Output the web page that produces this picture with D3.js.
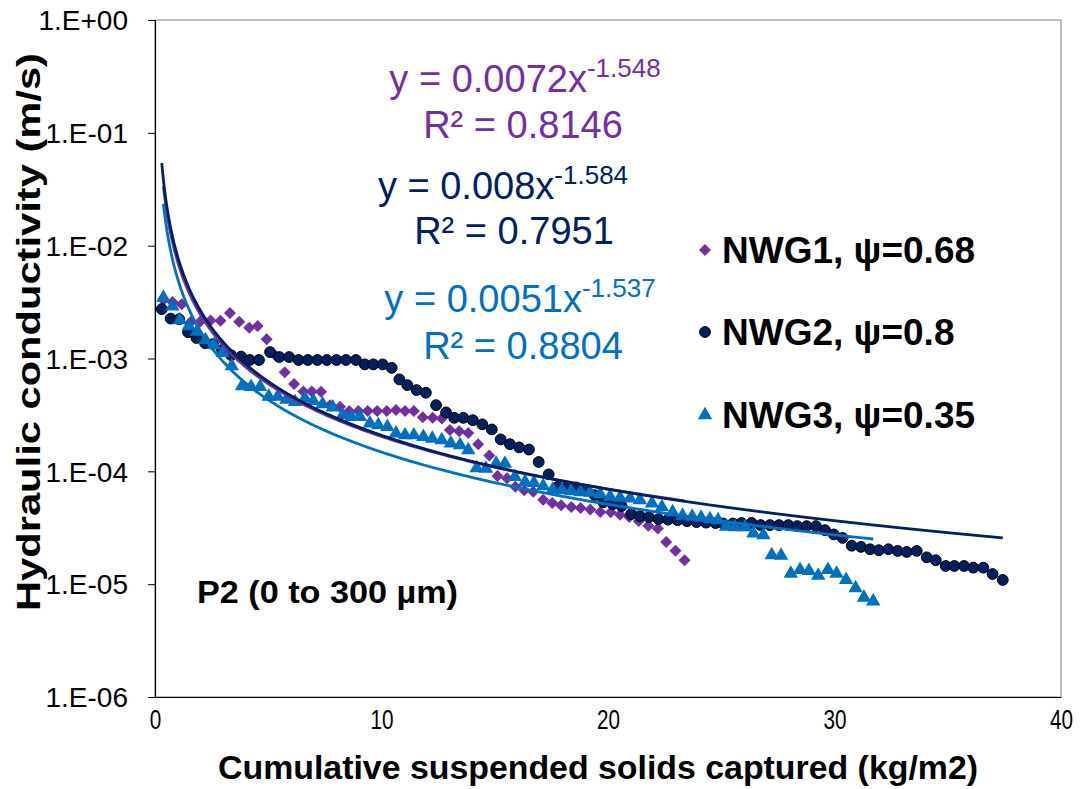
<!DOCTYPE html>
<html>
<head>
<meta charset="utf-8">
<script src="https://cdn.jsdelivr.net/npm/d3@7"></script>
<style>
  html, body { margin: 0; padding: 0; background: #fff; }
  svg { display: block; font-family: "Liberation Sans", Arial, sans-serif; }
</style>
</head>
<body>
<svg id="chart" width="1090" height="789"></svg>
<script>
// ---------------- DATA ----------------
const seriesNames = ["NWG1, \u03c8=0.68", "NWG2, \u03c8=0.8", "NWG3, \u03c8=0.35"];

const nwg1X = [0.37, 0.77, 1.18, 1.59, 1.99, 2.45, 2.89, 3.31, 3.72, 4.16, 4.53, 4.93, 5.34, 5.73, 6.14, 6.55, 6.92, 7.33, 7.73, 8.17, 8.58, 8.98, 9.39, 9.81, 10.23, 10.64, 11.04, 11.43, 11.82, 12.26, 12.66, 13.02, 13.43, 13.83, 14.27, 14.76, 15.12, 15.54, 15.91, 16.30, 16.70, 17.14, 17.54, 17.93, 18.38, 18.79, 19.22, 19.66, 20.12, 20.53, 20.94, 21.36, 21.78, 22.20, 22.57, 22.98, 23.38];
const nwg1Y = [3.3e-3, 3.16e-3, 3.03e-3, 2.12e-3, 2.12e-3, 2.17e-3, 2.16e-3, 2.53e-3, 2.12e-3, 1.87e-3, 1.94e-3, 1.48e-3, 1.05e-3, 7.57e-4, 5.93e-4, 5.11e-4, 5.11e-4, 5.07e-4, 3.86e-4, 3.73e-4, 3.42e-4, 3.42e-4, 3.42e-4, 3.42e-4, 3.42e-4, 3.49e-4, 3.42e-4, 3.42e-4, 3.01e-4, 2.99e-4, 2.94e-4, 2.32e-4, 2.27e-4, 2.19e-4, 1.74e-4, 1.38e-4, 9.07e-5, 8.7e-5, 7.29e-5, 6.81e-5, 6.58e-5, 5.61e-5, 5.23e-5, 5.01e-5, 4.82e-5, 4.72e-5, 4.59e-5, 4.35e-5, 4.33e-5, 4.13e-5, 3.93e-5, 3.62e-5, 3.30e-5, 3.12e-5, 2.36e-5, 1.98e-5, 1.63e-5];

const nwg2X = [0.30, 0.69, 1.07, 1.46, 1.83, 2.21, 2.56, 2.96, 3.36, 3.80, 4.19, 4.59, 5.08, 5.49, 5.92, 6.34, 6.75, 7.17, 7.59, 8.01, 8.43, 8.87, 9.26, 9.64, 10.05, 10.45, 10.79, 11.14, 11.55, 11.96, 12.41, 12.85, 13.21, 13.61, 14.03, 14.45, 14.87, 15.26, 15.67, 16.08, 16.51, 16.94, 17.38, 17.78, 18.18, 18.59, 19.00, 19.41, 19.79, 20.21, 20.60, 21.02, 21.41, 21.81, 22.23, 22.65, 23.07, 23.49, 23.91, 24.33, 24.75, 25.09, 25.51, 25.90, 26.34, 26.74, 27.15, 27.55, 27.96, 28.36, 28.77, 29.18, 29.58, 29.97, 30.36, 30.76, 31.17, 31.57, 31.96, 32.38, 32.79, 33.19, 33.63, 34.07, 34.47, 34.91, 35.29, 35.72, 36.13, 36.57, 36.98, 37.43];
const nwg2Y = [2.74e-3, 2.26e-3, 2.23e-3, 1.71e-3, 1.52e-3, 1.37e-3, 1.34e-3, 1.19e-3, 1.07e-3, 1.04e-3, 9.7e-4, 9.7e-4, 1.14e-3, 1.03e-3, 1.03e-3, 9.7e-4, 9.7e-4, 9.7e-4, 9.7e-4, 9.7e-4, 9.7e-4, 9.7e-4, 8.87e-4, 8.87e-4, 8.87e-4, 8.27e-4, 6.53e-4, 5.81e-4, 5.25e-4, 4.97e-4, 3.86e-4, 3.33e-4, 2.98e-4, 2.98e-4, 2.84e-4, 2.61e-4, 2.35e-4, 1.92e-4, 1.74e-4, 1.63e-4, 1.56e-4, 1.21e-4, 9.4e-5, 7.3e-5, 7.2e-5, 7.2e-5, 6.8e-5, 6.15e-5, 5.33e-5, 5.12e-5, 4.92e-5, 4.18e-5, 4.01e-5, 3.93e-5, 3.77e-5, 3.73e-5, 3.69e-5, 3.62e-5, 3.55e-5, 3.51e-5, 3.48e-5, 3.45e-5, 3.45e-5, 3.49e-5, 3.49e-5, 3.34e-5, 3.34e-5, 3.34e-5, 3.34e-5, 3.27e-5, 3.27e-5, 3.27e-5, 3.01e-5, 2.76e-5, 2.57e-5, 2.19e-5, 2.14e-5, 2.04e-5, 2.00e-5, 2.04e-5, 1.97e-5, 1.93e-5, 1.97e-5, 1.73e-5, 1.63e-5, 1.45e-5, 1.45e-5, 1.45e-5, 1.40e-5, 1.40e-5, 1.23e-5, 1.09e-5];

const nwg3X = [0.37, 0.77, 1.10, 1.49, 1.85, 2.23, 2.60, 2.99, 3.39, 3.84, 4.24, 4.64, 5.02, 5.42, 5.80, 6.18, 6.62, 6.99, 7.40, 7.85, 8.29, 8.68, 9.05, 9.49, 9.86, 10.26, 10.64, 11.04, 11.43, 11.85, 12.24, 12.66, 13.06, 13.47, 13.83, 14.20, 14.61, 15.06, 15.45, 15.89, 16.34, 16.73, 17.14, 17.56, 17.97, 18.37, 18.79, 19.21, 19.65, 20.09, 20.53, 20.97, 21.41, 21.94, 22.38, 22.85, 23.29, 23.72, 24.11, 24.50, 24.86, 25.21, 25.61, 26.05, 26.42, 26.86, 27.23, 27.64, 28.07, 28.48, 28.87, 29.28, 29.71, 30.09, 30.51, 30.93, 31.30, 31.71];
const nwg3Y = [3.47e-3, 2.90e-3, 2.19e-3, 1.94e-3, 1.73e-3, 1.46e-3, 1.32e-3, 1.12e-3, 8.57e-4, 5.69e-4, 5.61e-4, 5.61e-4, 4.59e-4, 4.59e-4, 4.32e-4, 4.13e-4, 4.43e-4, 4.22e-4, 3.94e-4, 3.69e-4, 3.15e-4, 3.04e-4, 3.04e-4, 2.66e-4, 2.57e-4, 2.48e-4, 2.17e-4, 2.09e-4, 2.09e-4, 2.02e-4, 1.95e-4, 1.89e-4, 1.77e-4, 1.71e-4, 1.54e-4, 1.07e-4, 1.06e-4, 1.17e-4, 1.17e-4, 8.94e-5, 8.07e-5, 7.91e-5, 7.40e-5, 6.89e-5, 6.81e-5, 6.68e-5, 6.55e-5, 6.48e-5, 6.28e-5, 5.97e-5, 5.85e-5, 5.75e-5, 5.56e-5, 5.20e-5, 4.82e-5, 4.35e-5, 4.05e-5, 3.97e-5, 3.89e-5, 3.77e-5, 3.69e-5, 3.24e-5, 3.20e-5, 3.20e-5, 2.82e-5, 2.72e-5, 1.81e-5, 1.79e-5, 1.24e-5, 1.34e-5, 1.31e-5, 1.19e-5, 1.34e-5, 1.24e-5, 1.09e-5, 9.22e-6, 7.62e-6, 7.06e-6];

// Power trendline coefficients shown on the chart (y = a x^b)
const trendA = [0.0072, 0.008, 0.0051];
const trendB = [-1.548, -1.584, -1.537];
const trendR2 = ["0.8146", "0.7951", "0.8804"];
const eqCoefText = ["0.0072", "0.008", "0.0051"];

const yTicks = [1, 1e-1, 1e-2, 1e-3, 1e-4, 1e-5, 1e-6];
const xTicks = [0, 10, 20, 30, 40];

const xTitle = "Cumulative suspended solids captured (kg/m2)";
const yTitle = "Hydraulic conductivity (m/s)";
const noteText = "P2 (0 to 300 \u00b5m)";

// ---------------- STYLE ----------------
const colors = ["#7030A0", "#002060", "#0070C0"];

const svg = d3.select("#chart");
const L = 155, R = 1061, T = 20, B = 697;

const x = d3.scaleLinear().domain([0, 40]).range([L, R]);
const y = d3.scaleLog().domain([1e-6, 1]).range([B, T]);

// plot frame
svg.append("rect").attr("x", L).attr("y", T).attr("width", R - L).attr("height", B - T)
  .attr("fill", "none").attr("stroke", "#808080").attr("stroke-width", 1);

// Y axis
const fmtY = v => {
  const e = Math.round(Math.log10(v));
  const s = e >= 0 ? "+" : "-";
  return "1.E" + s + String(Math.abs(e)).padStart(2, "0");
};
const yAxis = d3.axisLeft(y).tickValues(yTicks).tickFormat(fmtY).tickSize(7).tickPadding(20);
const gy = svg.append("g").attr("transform", `translate(${L},0)`).call(yAxis);
gy.select(".domain").attr("stroke", "#000").attr("stroke-width", 1.2);
gy.selectAll(".tick line").attr("stroke", "#000");
gy.selectAll(".tick text").attr("font-size", 28).attr("fill", "#000")
  .attr("font-family", "Liberation Sans, Arial, sans-serif").attr("dy", "0.35em");

// X axis
const xAxis = d3.axisBottom(x).tickValues(xTicks).tickFormat(d3.format("d")).tickSize(0).tickPadding(12);
const gx = svg.append("g").attr("transform", `translate(0,${B})`).call(xAxis);
gx.select(".domain").attr("stroke", "#000").attr("stroke-width", 1.2);
gx.selectAll(".tick text").attr("font-size", 28).attr("fill", "#000")
  .attr("font-family", "Liberation Sans, Arial, sans-serif")
  .attr("transform", "scale(0.74,1)");

// Titles
svg.append("text").attr("x", 598).attr("y", 779)
  .attr("text-anchor", "middle").attr("font-size", 33).attr("font-weight", "bold")
  .attr("textLength", 760).attr("lengthAdjust", "spacingAndGlyphs")
  .text(xTitle);

svg.append("text").attr("transform", "translate(40,332) rotate(-90)")
  .attr("text-anchor", "middle").attr("font-size", 34).attr("font-weight", "bold")
  .attr("textLength", 558).attr("lengthAdjust", "spacingAndGlyphs")
  .text(yTitle);

// Note
svg.append("text").attr("x", 197).attr("y", 603).attr("font-size", 31).attr("font-weight", "bold")
  .attr("textLength", 261).attr("lengthAdjust", "spacingAndGlyphs")
  .text(noteText);

// ---------------- MARKS ----------------
const series = [
  { xs: nwg1X, ys: nwg1Y },
  { xs: nwg2X, ys: nwg2Y },
  { xs: nwg3X, ys: nwg3Y }
].map((s, i) => ({ ...s, pts: s.xs.map((v, j) => [v, s.ys[j]]), color: colors[i] }));

const diamond = d3.symbol().type(d3.symbolSquare).size(72);
const triangle = d3.symbol().type(d3.symbolTriangle).size(90);

function drawMarker(g, i, cx, cy) {
  if (i === 0) {
    g.append("path").attr("d", diamond()).attr("transform", `translate(${cx},${cy}) rotate(45)`)
      .attr("fill", colors[0]);
  } else if (i === 1) {
    g.append("circle").attr("cx", cx).attr("cy", cy).attr("r", 5.4)
      .attr("fill", colors[1]).attr("stroke", "#000").attr("stroke-width", 1);
  } else {
    g.append("path").attr("d", triangle()).attr("transform", `translate(${cx},${cy})`)
      .attr("fill", colors[2]);
  }
}

series.forEach((s, i) => {
  const g = svg.append("g");
  s.pts.forEach(p => drawMarker(g, i, x(p[0]), y(p[1])));
});

// Trendlines
const line = d3.line().x(d => x(d[0])).y(d => y(d[1])).curve(d3.curveLinear);
series.forEach((s, i) => {
  const x0 = d3.min(s.xs), x1 = d3.max(s.xs);
  const xsT = d3.range(0, 301).map(k => x0 * Math.pow(x1 / x0, k / 300));
  const ptsT = xsT.map(v => [v, trendA[i] * Math.pow(v, trendB[i])]);
  svg.append("path").datum(ptsT).attr("d", line).attr("fill", "none")
    .attr("stroke", colors[i]).attr("stroke-width", 2.8);
});

// Equation labels
const eqPos = [
  { cx: 525, y1: 92, cx2: 523, y2: 138 },
  { cx: 503, y1: 199, cx2: 514, y2: 244 },
  { cx: 520, y1: 312, cx2: 523, y2: 359 }
];
eqPos.forEach((p, i) => {
  const t = svg.append("text").attr("x", p.cx).attr("y", p.y1).attr("text-anchor", "middle")
    .attr("font-size", 38).attr("fill", colors[i]);
  t.append("tspan").text("y = " + eqCoefText[i] + "x");
  t.append("tspan").attr("font-size", 26).attr("dy", -15).text(String(trendB[i]));
  svg.append("text").attr("x", p.cx2).attr("y", p.y2).attr("text-anchor", "middle")
    .attr("font-size", 38).attr("fill", colors[i])
    .text("R\u00b2 = " + trendR2[i]);
});

// Legend
const legY = [250, 332, 415];
seriesNames.forEach((name, i) => {
  const g = svg.append("g");
  drawMarker(g, i, 705, legY[i]);
  svg.append("text").attr("x", 722).attr("y", legY[i] + 13).attr("font-size", 37)
    .attr("font-weight", "bold").attr("fill", "#000").text(name);
});
</script>
</body>
</html>
